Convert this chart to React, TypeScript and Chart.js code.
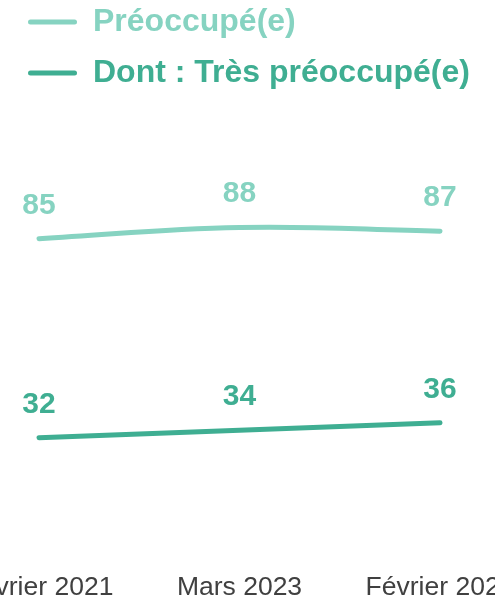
import React, { useEffect, useRef } from "react";
import { Chart, registerables } from "chart.js";

Chart.register(...registerables);

const categories = ["Février 2021", "Mars 2023", "Février 2024"];
const preoccupe = [85, 88, 87];
const tresPreoccupe = [32, 34, 36];
const seriesNames = ["Préoccupé(e)", "Dont : Très préoccupé(e)"];
const seriesColors = ["#86d3c1", "#3fae92"];

const FONT = "'Liberation Sans', Arial, sans-serif";

export default function App() {
  const ref = useRef<HTMLCanvasElement>(null);

  useEffect(() => {
    if (!ref.current) return;
    const valueLabels = {
      id: "valueLabels",
      afterDatasetsDraw(chart: any) {
        const ctx = chart.ctx;
        ctx.save();
        ctx.font = `bold 30px ${FONT}`;
        ctx.textAlign = "center";
        ctx.textBaseline = "alphabetic";
        chart.data.datasets.forEach((ds: any, i: number) => {
          const meta = chart.getDatasetMeta(i);
          ctx.fillStyle = ds.borderColor;
          meta.data.forEach((pt: any, j: number) => {
            ctx.fillText(String(ds.data[j]), pt.x, pt.y - 25);
          });
        });
        ctx.restore();
      },
    };

    const chart = new Chart(ref.current, {
      type: "line",
      data: {
        labels: categories,
        datasets: [
          {
            label: seriesNames[0],
            data: preoccupe,
            borderColor: seriesColors[0],
            backgroundColor: seriesColors[0],
            borderWidth: 5,
            borderCapStyle: "round",
            pointRadius: 0,
            tension: 0.4,
            fill: false,
            clip: false as any,
          },
          {
            label: seriesNames[1],
            data: tresPreoccupe,
            borderColor: seriesColors[1],
            backgroundColor: seriesColors[1],
            borderWidth: 5,
            borderCapStyle: "round",
            pointRadius: 0,
            tension: 0.4,
            fill: false,
            clip: false as any,
          },
        ],
      },
      options: {
        animation: false,
        responsive: true,
        maintainAspectRatio: false,
        events: [],
        layout: {
          autoPadding: false,
          padding: { left: 9, right: 0, top: 0, bottom: 0 },
        },
        plugins: {
          tooltip: { enabled: false },
          legend: {
            display: true,
            position: "top",
            align: "start",
            labels: {
              boxWidth: 49,
              boxHeight: 5,
              padding: 19,
              useBorderRadius: true,
              borderRadius: 2.5,
              font: { size: 32, weight: "bold", family: FONT },
              generateLabels: (c: any) =>
                c.data.datasets.map((ds: any, i: number) => ({
                  text: ds.label,
                  fillStyle: ds.borderColor,
                  strokeStyle: ds.borderColor,
                  fontColor: ds.borderColor,
                  lineWidth: 0,
                  borderRadius: 2.5,
                  datasetIndex: i,
                  hidden: false,
                })),
            },
          },
        },
        scales: {
          x: {
            type: "category",
            offset: false,
            grid: { display: false, drawTicks: false },
            border: { display: false },
            ticks: {
              autoSkip: false,
              maxRotation: 0,
              minRotation: 0,
              padding: 2,
              color: "#404040",
              font: { size: 26.5, family: FONT },
            },
            afterFit: (s: any) => {
              s.paddingLeft = 0;
              s.paddingRight = 0;
            },
          },
          y: {
            display: true,
            position: "left",
            min: -3.3,
            max: 122.2,
            grid: { display: false, drawTicks: false },
            border: { display: false },
            ticks: { display: false },
            afterFit: (s: any) => {
              s.width = 30;
            },
          },
          yRight: {
            type: "linear",
            display: true,
            position: "right",
            grid: { display: false, drawTicks: false },
            border: { display: false },
            ticks: { display: false },
            afterFit: (s: any) => {
              s.width = 55;
            },
          },
        },
      },
      plugins: [valueLabels],
    } as any);

    return () => chart.destroy();
  }, []);

  return (
    <div
      style={{
        position: "absolute",
        left: 0,
        top: 0,
        width: 495,
        height: 601,
        overflow: "hidden",
        background: "#fff",
      }}
    >
      <div style={{ position: "absolute", left: 0, top: -13, width: 495, height: 619 }}>
        <canvas ref={ref} />
      </div>
    </div>
  );
}
